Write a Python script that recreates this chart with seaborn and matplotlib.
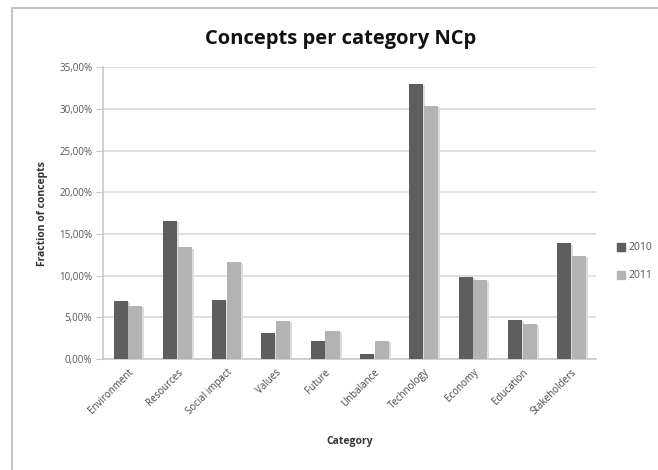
import matplotlib
matplotlib.use("Agg")
import matplotlib.pyplot as plt
from matplotlib.patches import Rectangle
from matplotlib.ticker import FuncFormatter
import matplotlib.patheffects as pe
import seaborn as sns
import pandas as pd

categories = ["Environment", "Resources", "Social impact", "Values", "Future",
              "Unbalance", "Technology", "Economy", "Education", "Stakeholders"]
values_2010 = [7.0, 16.6, 7.1, 3.1, 2.2, 0.6, 33.0, 9.9, 4.7, 13.9]
values_2011 = [6.4, 13.4, 11.7, 4.6, 3.4, 2.2, 30.4, 9.5, 4.2, 12.4]
years = ["2010", "2011"]
y_ticks = [0, 5, 10, 15, 20, 25, 30, 35]

df = pd.DataFrame({
    "Category": categories * 2,
    "Fraction": values_2010 + values_2011,
    "Year": [years[0]] * len(categories) + [years[1]] * len(categories),
})

sns.set_style("white")
plt.rcParams["font.family"] = ["Open Sans", "DejaVu Sans"]

fig = plt.figure(figsize=(6.58, 4.70), dpi=100)
ax = fig.add_axes([0.157, 0.236, 0.749, 0.621])

palette = {"2010": "#5e5e5e", "2011": "#b3b3b3"}
sns.barplot(data=df, x="Category", y="Fraction", hue="Year", palette=palette,
            width=0.6, gap=0.05, ax=ax, legend=False, saturation=1,
            edgecolor="none", zorder=3)

# soft drop shadow behind every bar
for bar in ax.patches:
    bar.set_path_effects([pe.SimplePatchShadow(offset=(1.5, -1), shadow_rgbFace="#dcdcdc", alpha=1),
                          pe.Normal()])

ax.set_ylim(0, 35)
ax.set_xlim(-0.5, len(categories) - 0.5)
ax.set_yticks(y_ticks)
ax.yaxis.set_major_formatter(FuncFormatter(lambda v, p: f"{v:.2f}%".replace(".", ",")))
ax.grid(axis="y", color="#d9d9d9", linewidth=1.2, zorder=0)
ax.set_axisbelow(True)
for s in ["top", "right"]:
    ax.spines[s].set_visible(False)
for s in ["left", "bottom"]:
    ax.spines[s].set_color("#c8c8c8")
    ax.spines[s].set_linewidth(1.2)
ax.tick_params(axis="y", which="major", left=True, length=5, color="#c8c8c8",
               labelsize=7, labelcolor="#555555", pad=3)
ax.tick_params(axis="x", bottom=False, labelsize=7, labelcolor="#444444", pad=2)
plt.setp(ax.get_xticklabels(), rotation=45, ha="right", rotation_mode="anchor")

ax.set_xlabel("Category", fontsize=7.5, fontweight="bold", color="#333333", labelpad=14)
ax.set_ylabel("Fraction of concepts", fontsize=7.5, fontweight="bold", color="#333333", labelpad=8)

fig.text(0.517, 0.918, "Concepts per category NCp", ha="center", va="center",
         fontsize=14.5, fontweight="bold", color="#111111")

# legend on the right
for i, yr in enumerate(years):
    yy = 0.474 - i * 0.06
    fig.patches.append(Rectangle((0.938, yy - 0.008), 0.012, 0.017,
                                 transform=fig.transFigure, color=palette[yr]))
    fig.text(0.955, yy, yr, fontsize=7.5, color="#555555", va="center")

# outer chart frame
fig.patches.append(Rectangle((0.018, -0.05), 1.1, 1.033, transform=fig.transFigure,
                             fill=False, edgecolor="#b8b8b8", linewidth=1.2))

fig.savefig("out.png", dpi=100)
